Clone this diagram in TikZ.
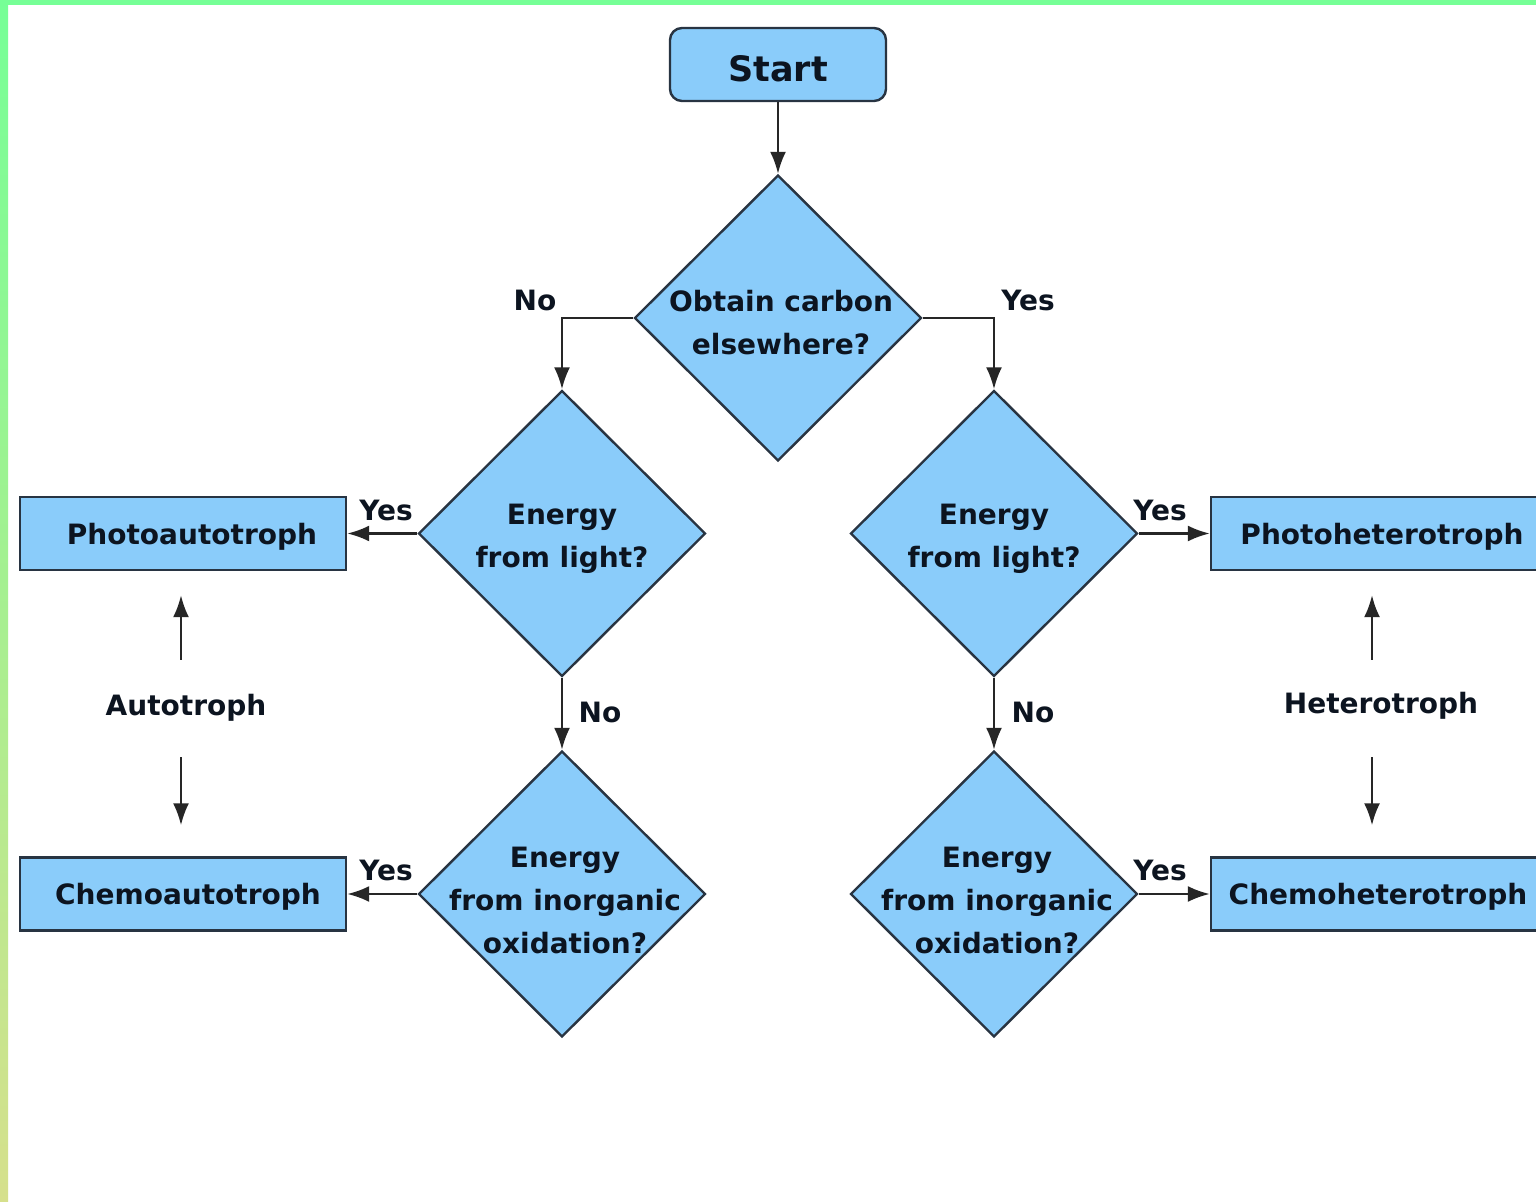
\documentclass[tikz,border=0pt]{standalone}
\usepackage{fontspec}
\setmainfont{DejaVu Sans}
\usetikzlibrary{shapes.geometric,arrows.meta}
\definecolor{boxfill}{RGB}{138,204,250}
\definecolor{boxline}{RGB}{40,52,66}
\definecolor{txt}{RGB}{12,20,32}
\definecolor{topgreen}{RGB}{118,255,150}
\definecolor{botyellow}{RGB}{214,224,140}
\begin{document}
\begin{tikzpicture}[x=0.5pt,y=-0.5pt,
  every node/.style={text=txt,font=\bfseries\fontsize{14}{21.5}\selectfont},
  startbox/.style={draw=boxline,fill=boxfill,line width=1.2pt,rounded corners=6pt,
    minimum width=108pt,minimum height=36.5pt,inner sep=0pt},
  decision/.style={diamond,draw=boxline,fill=boxfill,line width=1.2pt,
    minimum width=143.5pt,minimum height=143pt,inner sep=0pt},
  dtext/.style={align=center,inner sep=0pt},
  outbox/.style={draw=boxline,fill=boxfill,line width=1.2pt,
    minimum width=163pt,minimum height=36.5pt,inner sep=0pt},
  lab/.style={inner sep=0pt},
  side/.style={inner sep=0pt,font=\bfseries\fontsize{14}{16}\selectfont},
  arr/.style={draw=black!85,line width=1.2pt,-{Latex[length=11pt,width=8pt]}}
]
\useasboundingbox (0,0) rectangle (1536,1202);
\fill[white] (0,0) rectangle (1536,1202);
\shade[top color=topgreen,bottom color=botyellow] (0,0) rectangle (8,1202);
\fill[topgreen] (0,0) rectangle (1536,5);

% nodes
\node[startbox] (start) at (778,64.5) {};
\node[lab,font=\bfseries\fontsize{17.5}{20}\selectfont] (st) at (778,69) {Start};
\node[decision] (d1) at (778,318) {};
\node[dtext] (t1) at (781,323) {Obtain carbon\\elsewhere?};
\node[decision] (d2) at (562,533.5) {};
\node[dtext] (t2) at (562,539) {Energy\\from light?};
\node[decision] (d3) at (994,533.5) {};
\node[dtext] (t3) at (994,539) {Energy\\from light?};
\node[decision] (d4) at (562,894) {};
\node[dtext] (t4) at (565,900) {Energy\\from inorganic\\oxidation?};
\node[decision] (d5) at (994,894) {};
\node[dtext] (t5) at (997,900) {Energy\\from inorganic\\oxidation?};

\node[outbox] (pa) at (183,533.5) {};
\node[lab] at (192,536.5) {Photoautotroph};
\node[outbox] (ca) at (183,894) {};
\node[lab] at (188,897) {Chemoautotroph};
\node[outbox,minimum width=170pt] (ph) at (1381,533.5) {};
\node[lab] (pht) at (1382,536.5) {Photoheterotroph};
\node[outbox,minimum width=170pt] (ch) at (1381,894) {};
\node[lab] (cht) at (1378,897) {Chemoheterotroph};

\node[side] (auto) at (186,708) {Autotroph};
\node[side] (het) at (1381,706) {Heterotroph};

% labels
\node[lab] (lno1) at (535,300) {No};
\node[lab] (lyes1) at (1028,300) {Yes};
\node[lab] (lyes2) at (386,510) {Yes};
\node[lab] (lyes3) at (1160,510) {Yes};
\node[lab] (lno2) at (600,712) {No};
\node[lab] (lno3) at (1033,712) {No};
\node[lab] (lyes4) at (386,870) {Yes};
\node[lab] (lyes5) at (1160,870) {Yes};

% connectors
\draw[arr] (start) -- (d1);
\draw[arr] (d1.west) -| (d2.north);
\draw[arr] (d1.east) -| (d3.north);
\draw[arr] (d2.west) -- (pa.east);
\draw[arr] (d3.east) -- (ph.west);
\draw[arr] (d2.south) -- (d4.north);
\draw[arr] (d3.south) -- (d5.north);
\draw[arr] (d4.west) -- (ca.east);
\draw[arr] (d5.east) -- (ch.west);

\coordinate (au1) at (181,660);
\coordinate (au2) at (181,757);
\coordinate (he1) at (1372,660);
\coordinate (he2) at (1372,757);
\draw[arr,shorten >=12pt] (au1) -- (pa.south -| au1);
\draw[arr,shorten >=15.5pt] (au2) -- (ca.north -| au2);
\draw[arr,shorten >=12pt] (he1) -- (ph.south -| he1);
\draw[arr,shorten >=15.5pt] (he2) -- (ch.north -| he2);
\end{tikzpicture}
\end{document}
